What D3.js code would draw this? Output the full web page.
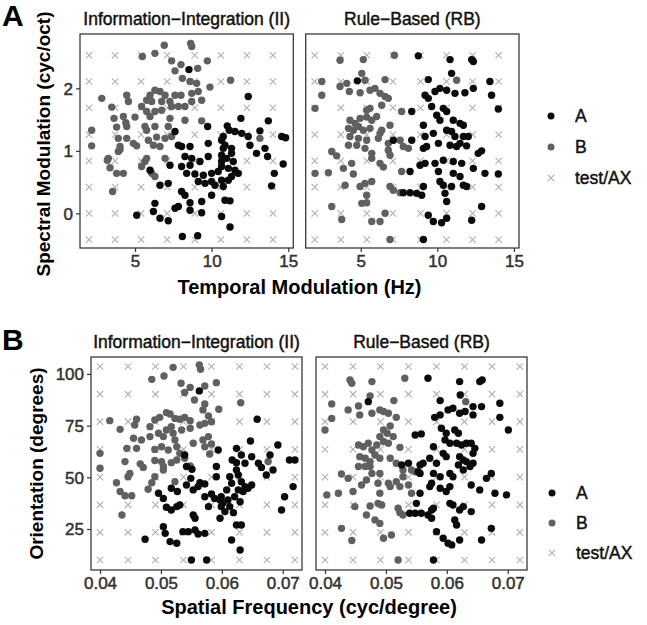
<!DOCTYPE html>
<html><head><meta charset="utf-8">
<script src="https://cdn.jsdelivr.net/npm/d3@7"></script>
<style>body{margin:0;background:#fff} svg{display:block} text{font-family:"Liberation Sans",Arial,Helvetica,sans-serif}</style>
</head><body><svg id="c" width="647" height="625"></svg>
<script>
const panelTitles = ["Information\u2212Integration (II)", "Rule\u2212Based (RB)"];
const legendLabels = ["A", "B", "test/AX"];

// ---- Row A: auditory ----
const audTicksX = [5, 10, 15];
const audTicksY = [0, 1, 2];
const audTestX = [2.0, 3.7, 5.4, 7.1, 8.9, 10.6, 12.3, 14.0];
const audTestY = [-0.42, 0.0, 0.42, 0.84, 1.26, 1.69, 2.11, 2.53];
const audII_B = [[6.91,2.69],[8.63,2.72],[8.70,2.67],[6.30,2.56],[5.48,2.51],[7.39,2.44],[8.00,2.38],[9.09,2.32],[9.72,2.44],[7.61,2.28],[8.09,2.16],[8.59,2.11],[9.02,2.08],[9.89,2.02],[11.24,2.13],[6.30,1.97],[6.63,1.95],[5.98,1.89],[6.96,1.89],[7.61,1.89],[8.00,1.89],[8.70,1.92],[9.13,1.95],[9.35,1.81],[2.83,1.84],[4.46,1.89],[4.57,1.79],[5.76,1.81],[6.09,1.79],[6.74,1.79],[7.28,1.79],[7.83,1.71],[8.26,1.71],[8.70,1.79],[3.48,1.70],[5.43,1.71],[5.76,1.63],[6.30,1.63],[6.74,1.65],[7.39,1.71],[4.24,1.55],[5.00,1.54],[5.98,1.55],[7.28,1.52],[8.26,1.49],[9.35,1.48],[2.17,1.33],[3.80,1.38],[4.46,1.39],[5.65,1.39],[5.76,1.33],[6.30,1.39],[7.17,1.39],[3.91,1.20],[4.46,1.20],[5.87,1.17],[6.41,1.22],[6.96,1.20],[7.39,1.23],[2.17,1.08],[4.89,1.12],[5.11,1.08],[6.20,1.09],[6.63,1.07],[4.02,1.02],[3.91,0.99],[6.96,0.88],[5.76,0.88],[3.26,0.88],[3.37,0.73],[3.80,0.64],[4.24,0.64],[5.43,0.75],[5.65,0.83],[6.09,0.64],[6.30,0.59],[3.54,0.35],[13.15,1.20],[3.63,1.52],[4.40,1.45],[4.02,1.07],[3.19,0.85]];
const audII_A = [[8.52,2.30],[12.39,1.87],[11.91,1.52],[13.70,1.48],[7.61,1.31],[9.74,1.39],[11.02,1.40],[11.15,1.33],[11.52,1.31],[11.96,1.28],[12.39,1.23],[13.15,1.32],[14.57,1.23],[14.83,1.21],[7.83,1.09],[8.04,1.07],[8.59,1.07],[9.78,1.12],[10.65,1.17],[10.87,1.09],[11.30,1.04],[12.50,1.09],[12.93,0.96],[13.48,1.04],[8.26,0.91],[8.70,0.88],[9.78,0.91],[10.65,0.93],[11.30,0.96],[13.65,0.91],[7.28,0.77],[8.04,0.75],[8.59,0.77],[9.24,0.83],[5.98,0.69],[8.37,0.64],[8.91,0.63],[9.46,0.61],[10.00,0.64],[10.43,0.67],[10.65,0.75],[11.09,0.72],[11.52,0.69],[11.74,0.64],[11.30,0.59],[14.09,0.64],[14.67,0.79],[6.63,0.45],[7.17,0.48],[9.13,0.51],[9.57,0.48],[10.00,0.51],[10.22,0.45],[10.65,0.53],[11.09,0.53],[10.76,0.43],[13.91,0.44],[8.04,0.35],[8.26,0.29],[10.00,0.29],[10.87,0.21],[11.20,0.20],[8.59,0.17],[9.35,0.19],[6.30,0.16],[7.61,0.08],[7.83,0.11],[5.11,-0.03],[6.20,0.03],[6.63,-0.08],[7.17,-0.12],[8.59,0.05],[9.35,0.01],[10.65,-0.05],[11.20,-0.22],[8.09,-0.37],[9.09,-0.36],[10.76,1.23],[10.76,1.04],[10.65,0.83],[10.98,0.88],[11.41,0.83]];
const audRB_B = [[3.65,2.45],[5.17,2.46],[7.20,2.53],[2.46,2.11],[3.65,2.03],[4.09,2.08],[5.07,2.24],[5.28,2.13],[6.59,2.14],[11.26,2.13],[2.46,1.89],[4.26,1.95],[4.96,1.93],[5.61,1.97],[5.93,2.00],[6.26,1.92],[6.59,1.87],[6.80,1.84],[2.02,1.68],[5.39,1.65],[5.61,1.68],[6.37,1.73],[7.67,1.63],[4.30,1.49],[4.96,1.52],[4.63,1.44],[5.39,1.54],[5.72,1.49],[6.04,1.55],[6.91,1.41],[4.20,1.36],[4.52,1.33],[4.85,1.39],[5.17,1.33],[5.61,1.36],[6.26,1.28],[6.37,1.33],[4.30,1.23],[4.85,1.20],[5.39,1.17],[6.15,1.20],[6.80,1.12],[7.57,1.17],[4.20,1.09],[4.74,1.09],[5.28,1.04],[5.72,0.96],[6.80,1.01],[7.78,1.07],[8.11,1.04],[3.11,0.99],[3.43,0.92],[4.41,0.80],[5.72,0.88],[6.26,0.80],[6.91,0.93],[2.02,0.64],[2.89,0.65],[3.87,0.72],[4.52,0.63],[6.48,0.74],[7.67,0.67],[3.98,0.45],[4.96,0.43],[5.28,0.48],[5.72,0.51],[5.39,0.29],[6.91,0.43],[7.13,0.37],[7.57,0.33],[3.11,0.11],[3.76,-0.10],[5.07,0.16],[5.39,0.17],[5.72,-0.13],[6.26,-0.13],[6.59,0.00],[6.91,-0.42]];
const audRB_A = [[8.76,2.52],[10.83,2.46],[12.24,2.46],[12.35,2.43],[4.78,2.12],[9.41,2.14],[10.93,2.24],[13.43,2.11],[12.35,2.00],[11.80,1.93],[9.20,1.89],[9.41,1.84],[9.85,1.95],[10.17,2.00],[10.61,1.97],[11.15,1.92],[13.54,1.89],[8.33,1.63],[9.63,1.71],[10.39,1.68],[10.61,1.63],[13.98,1.67],[9.09,1.41],[9.96,1.57],[10.17,1.49],[11.04,1.49],[11.48,1.44],[11.70,1.41],[7.13,1.17],[8.33,1.17],[9.20,1.23],[9.74,1.28],[10.61,1.33],[10.93,1.31],[11.15,1.23],[11.70,1.23],[12.02,1.23],[9.09,1.04],[9.30,1.07],[10.07,1.12],[10.83,1.09],[11.26,1.07],[11.48,1.12],[11.91,1.08],[12.67,0.96],[12.89,1.00],[8.87,0.77],[9.20,0.80],[9.85,0.80],[10.39,0.85],[11.04,0.83],[11.59,0.80],[12.35,0.72],[8.22,0.67],[10.07,0.67],[11.04,0.64],[11.48,0.59],[13.11,0.64],[13.98,0.63],[9.09,0.43],[10.17,0.51],[10.39,0.45],[10.93,0.43],[11.70,0.45],[11.91,0.43],[7.78,0.33],[8.22,0.33],[8.65,0.32],[8.98,0.29],[10.50,0.32],[10.61,0.19],[12.89,0.11],[9.41,-0.03],[9.74,-0.13],[10.28,-0.15],[10.61,-0.08],[12.24,-0.11],[9.09,-0.42]];

// ---- Row B: visual ----
const visTicksX = [0.04, 0.05, 0.06, 0.07];
const visTicksY = [25, 50, 75, 100];
const visTestX = [0.0400, 0.0446, 0.0491, 0.0537, 0.0583, 0.0629, 0.0674, 0.0720];
const visTestY = [10, 23.4, 36.7, 50.1, 63.5, 76.9, 90.2, 103.6];
const visII_B = [[0.0520,103.2],[0.0563,104.4],[0.0565,102.3],[0.0485,97.4],[0.0505,99.0],[0.0533,95.5],[0.0539,91.0],[0.0548,93.5],[0.0572,94.2],[0.0591,95.8],[0.0555,87.4],[0.0572,85.5],[0.0631,86.1],[0.0595,82.9],[0.0416,77.4],[0.0433,73.2],[0.0460,78.1],[0.0457,75.3],[0.0482,74.5],[0.0490,77.7],[0.0498,79.0],[0.0509,81.3],[0.0515,80.6],[0.0523,78.5],[0.0531,78.1],[0.0539,79.0],[0.0548,77.4],[0.0564,75.3],[0.0572,76.1],[0.0583,76.9],[0.0569,82.6],[0.0578,79.7],[0.0482,69.7],[0.0496,71.3],[0.0504,69.7],[0.0509,72.9],[0.0517,74.5],[0.0520,71.3],[0.0534,72.9],[0.0548,73.7],[0.0455,68.9],[0.0468,68.1],[0.0501,64.8],[0.0523,68.1],[0.0526,64.8],[0.0553,66.5],[0.0569,68.1],[0.0578,69.7],[0.0583,66.1],[0.0444,64.0],[0.0460,64.0],[0.0490,63.5],[0.0512,63.2],[0.0531,61.6],[0.0539,59.2],[0.0572,64.8],[0.0580,61.3],[0.0441,57.6],[0.0466,56.5],[0.0471,54.8],[0.0449,51.9],[0.0446,50.3],[0.0490,58.1],[0.0501,57.6],[0.0504,55.2],[0.0517,57.1],[0.0526,58.4],[0.0548,55.5],[0.0427,47.4],[0.0433,43.1],[0.0452,41.1],[0.0441,41.1],[0.0479,44.2],[0.0485,47.4],[0.0490,50.3],[0.0523,47.9],[0.0504,53.5],[0.0436,31.8],[0.0676,57.6],[0.0400,61.6],[0.0400,54.4]];
const visII_A = [[0.0563,91.8],[0.0658,78.1],[0.0647,67.6],[0.0692,65.6],[0.0594,63.2],[0.0624,64.0],[0.0632,60.8],[0.0649,60.0],[0.0679,60.8],[0.0539,60.8],[0.0542,55.2],[0.0551,53.9],[0.0591,55.2],[0.0617,58.4],[0.0624,57.1],[0.0624,53.5],[0.0638,56.8],[0.0660,56.8],[0.0665,54.8],[0.0673,51.1],[0.0684,53.5],[0.0711,58.4],[0.0720,58.4],[0.0549,49.5],[0.0564,47.4],[0.0572,46.8],[0.0591,50.3],[0.0613,50.3],[0.0627,51.1],[0.0632,47.9],[0.0638,45.5],[0.0627,43.9],[0.0616,47.1],[0.0608,43.9],[0.0599,40.6],[0.0597,39.0],[0.0496,42.3],[0.0504,39.8],[0.0517,44.7],[0.0527,43.1],[0.0542,46.3],[0.0553,43.9],[0.0561,45.5],[0.0572,40.6],[0.0583,41.9],[0.0588,39.8],[0.0602,37.7],[0.0610,39.0],[0.0621,40.6],[0.0630,38.2],[0.0635,43.1],[0.0643,44.7],[0.0649,46.3],[0.0717,45.5],[0.0703,40.6],[0.0698,34.2],[0.0509,35.5],[0.0517,34.2],[0.0526,35.8],[0.0531,36.6],[0.0553,31.8],[0.0556,30.2],[0.0578,35.8],[0.0599,35.8],[0.0605,33.4],[0.0613,35.8],[0.0619,32.9],[0.0474,20.0],[0.0504,26.1],[0.0507,22.9],[0.0515,18.9],[0.0526,18.1],[0.0536,23.7],[0.0545,23.7],[0.0556,24.5],[0.0561,22.6],[0.0572,22.9],[0.0597,30.2],[0.0616,19.7],[0.0624,26.9],[0.0632,26.9],[0.0630,14.8],[0.0550,10.0],[0.0575,10.0]];
const visRB_B = [[0.0441,97.1],[0.0444,95.5],[0.0477,96.3],[0.0531,97.9],[0.0411,85.5],[0.0411,78.5],[0.0438,82.6],[0.0455,84.5],[0.0457,80.2],[0.0474,89.4],[0.0477,81.0],[0.0490,82.6],[0.0496,81.8],[0.0504,81.0],[0.0513,87.1],[0.0517,79.0],[0.0631,86.6],[0.0400,72.9],[0.0507,74.8],[0.0496,72.9],[0.0502,71.3],[0.0490,69.7],[0.0455,65.6],[0.0463,64.8],[0.0471,66.5],[0.0477,63.2],[0.0485,65.6],[0.0496,67.3],[0.0504,66.5],[0.0512,69.7],[0.0523,64.5],[0.0457,60.0],[0.0466,59.2],[0.0474,57.6],[0.0482,60.8],[0.0490,59.2],[0.0507,59.2],[0.0517,56.8],[0.0528,53.5],[0.0542,53.5],[0.0548,52.7],[0.0455,55.2],[0.0466,55.2],[0.0474,55.2],[0.0477,51.9],[0.0490,51.9],[0.0427,51.6],[0.0438,49.5],[0.0460,46.3],[0.0468,48.7],[0.0487,47.1],[0.0504,47.1],[0.0517,47.9],[0.0523,45.5],[0.0528,50.3],[0.0403,41.5],[0.0422,42.3],[0.0446,43.1],[0.0490,42.3],[0.0507,45.5],[0.0542,42.3],[0.0537,46.3],[0.0449,35.8],[0.0474,36.1],[0.0487,37.4],[0.0493,36.6],[0.0468,31.8],[0.0482,29.4],[0.0490,27.7],[0.0520,35.0],[0.0523,32.9],[0.0528,31.8],[0.0427,25.3],[0.0444,19.4],[0.0496,20.5],[0.0509,22.1],[0.0520,10.0]];
const visRB_A = [[0.0569,97.9],[0.0621,96.3],[0.0654,96.3],[0.0658,97.1],[0.0471,86.6],[0.0589,87.1],[0.0622,89.8],[0.0643,84.2],[0.0657,84.2],[0.0687,85.8],[0.0580,79.0],[0.0589,80.2],[0.0602,82.6],[0.0610,83.4],[0.0621,81.0],[0.0630,81.8],[0.0643,80.2],[0.0687,79.0],[0.0701,72.9],[0.0548,70.5],[0.0558,71.0],[0.0591,73.7],[0.0599,71.3],[0.0613,72.9],[0.0619,71.3],[0.0578,64.8],[0.0597,68.1],[0.0605,66.5],[0.0616,66.5],[0.0624,65.6],[0.0632,66.5],[0.0640,66.5],[0.0646,64.0],[0.0643,61.6],[0.0526,56.0],[0.0537,56.8],[0.0556,56.0],[0.0561,56.8],[0.0572,59.2],[0.0583,56.8],[0.0594,61.6],[0.0599,60.0],[0.0621,60.0],[0.0627,58.4],[0.0632,57.6],[0.0643,56.8],[0.0638,55.2],[0.0619,56.0],[0.0553,52.7],[0.0556,51.9],[0.0578,51.9],[0.0589,50.3],[0.0575,47.1],[0.0605,51.9],[0.0610,50.3],[0.0627,53.5],[0.0673,51.9],[0.0665,49.5],[0.0572,45.5],[0.0589,44.7],[0.0605,45.5],[0.0599,43.1],[0.0640,46.3],[0.0654,43.9],[0.0679,42.3],[0.0698,41.5],[0.0556,42.3],[0.0550,37.4],[0.0575,34.2],[0.0578,35.0],[0.0605,37.4],[0.0610,36.6],[0.0621,34.2],[0.0627,35.8],[0.0640,33.4],[0.0539,32.6],[0.0548,32.6],[0.0558,32.6],[0.0569,31.8],[0.0575,30.2],[0.0613,29.4],[0.0616,26.9],[0.0673,25.3],[0.0657,19.7],[0.0583,23.7],[0.0594,20.5],[0.0602,18.1],[0.0608,17.3],[0.0621,19.7],[0.0578,10.0]];

const colA = "#0b0b0b", colB = "#606060", colX = "#b0b0b0";
const FONT = '"Liberation Sans",Arial,Helvetica,sans-serif';
const svg = d3.select("#c");

function thick(sel, col, w) { return sel.attr("stroke", col).attr("stroke-width", w).attr("paint-order", "stroke"); }

function drawRow(cfg) {
  const x = d3.scaleLinear().domain(cfg.xDomain).range([0, cfg.w]);
  const y = d3.scaleLinear().domain(cfg.yDomain).range([cfg.h, 0]);
  const grid = [];
  cfg.testX.forEach(tx => cfg.testY.forEach(ty => grid.push([tx, ty])));
  cfg.panels.forEach((p, i) => {
    const g = svg.append("g").attr("transform", `translate(${p.left},${cfg.top})`);
    g.append("rect").attr("width", cfg.w).attr("height", cfg.h).attr("fill", "#fff");
    const cs = 3.2;
    g.append("g").selectAll("path").data(grid).join("path")
      .attr("d", d => { const cx = x(d[0]), cy = y(d[1]);
        return `M${cx-cs},${cy-cs}L${cx+cs},${cy+cs}M${cx-cs},${cy+cs}L${cx+cs},${cy-cs}`; })
      .attr("stroke", colX).attr("stroke-width", 1.1).attr("fill", "none");
    g.append("g").selectAll("circle").data(p.B).join("circle")
      .attr("cx", d => x(d[0])).attr("cy", d => y(d[1])).attr("r", 3.7).attr("fill", colB);
    g.append("g").selectAll("circle").data(p.A).join("circle")
      .attr("cx", d => x(d[0])).attr("cy", d => y(d[1])).attr("r", 3.7).attr("fill", colA);
    g.append("rect").attr("width", cfg.w).attr("height", cfg.h).attr("fill", "none")
      .attr("stroke", "#3a3a3a").attr("stroke-width", 1.3);
    // x axis
    const xa = g.append("g").attr("transform", `translate(0,${cfg.h})`)
      .call(d3.axisBottom(x).tickValues(cfg.ticksX).tickSize(4).tickPadding(3).tickFormat(cfg.fmtX));
    xa.select(".domain").remove();
    xa.selectAll("line").attr("stroke", "#333").attr("stroke-width", 1.2);
    thick(xa.selectAll("text").attr("fill", "#333").style("font-size", "17px").style("font-family", FONT), "#333", 0.5);
    if (i === 0) {
      const ya = g.append("g").call(d3.axisLeft(y).tickValues(cfg.ticksY).tickSize(4).tickPadding(3).tickFormat(cfg.fmtY));
      ya.select(".domain").remove();
      ya.selectAll("line").attr("stroke", "#333").attr("stroke-width", 1.2);
      thick(ya.selectAll("text").attr("fill", "#333").style("font-size", "17px").style("font-family", FONT).attr("dy", "0.34em"), "#333", 0.5);
    }
    thick(svg.append("text").attr("x", p.left + cfg.w / 2).attr("y", cfg.top - 9)
      .attr("text-anchor", "middle").style("font-size", "17.5px").attr("fill", "#111")
      .text(panelTitles[i]), "#111", 0.45);
  });
  // axis titles
  const l0 = cfg.panels[0].left, l1 = cfg.panels[1].left + cfg.w;
  svg.append("text").attr("x", (l0 + l1) / 2).attr("y", cfg.top + cfg.h + cfg.xTitleDy)
    .attr("text-anchor", "middle").style("font-size", "20px").style("font-weight", "bold").text(cfg.xTitle);
  svg.append("text").attr("transform", `translate(${cfg.yTitleX},${cfg.top + cfg.h / 2 + cfg.yTitleOff}) rotate(-90)`)
    .attr("text-anchor", "middle").style("font-size", "19px").style("font-weight", "bold").text(cfg.yTitle);
  svg.append("text").attr("x", 2).attr("y", cfg.letterY).style("font-size", "30px")
    .style("font-weight", "bold").text(cfg.letter);
  // legend
  const lg = svg.append("g").attr("transform", `translate(${cfg.legX},${cfg.legY})`);
  legendLabels.forEach((lab, k) => {
    const cy = k * cfg.legStep;
    if (k < 2) lg.append("circle").attr("cx", 0).attr("cy", cy).attr("r", 3.5).attr("fill", k === 0 ? colA : colB);
    else lg.append("path").attr("d", `M-3.2,${cy-3.2}L3.2,${cy+3.2}M-3.2,${cy+3.2}L3.2,${cy-3.2}`)
      .attr("stroke", colX).attr("stroke-width", 1.1);
    thick(lg.append("text").attr("x", 24).attr("y", cy).attr("dy", "0.36em").style("font-size", "17.5px")
      .attr("fill", "#111").text(lab), "#111", 0.45);
  });
}

drawRow({
  top: 34, w: 213.3, h: 214,
  panels: [{left: 80, A: audII_A, B: audII_B}, {left: 305.7, A: audRB_A, B: audRB_B}],
  xDomain: [1.41, 15.33], yDomain: [-0.555, 2.87],
  ticksX: audTicksX, ticksY: audTicksY, fmtX: d3.format("d"), fmtY: d3.format("d"),
  testX: audTestX, testY: audTestY,
  xTitle: "Temporal Modulation (Hz)", xTitleDy: 46,
  yTitle: "Spectral Modulation (cyc/oct)", yTitleX: 50, yTitleOff: 3,
  letter: "A", letterY: 26, legX: 551, legY: 116, legStep: 31
});
drawRow({
  top: 357, w: 211, h: 213,
  panels: [{left: 91, A: visII_A, B: visII_B}, {left: 316, A: visRB_A, B: visRB_B}],
  xDomain: [0.03852, 0.07316], yDomain: [5.16, 108.2],
  ticksX: visTicksX, ticksY: visTicksY, fmtX: d3.format(".2f"), fmtY: d3.format("d"),
  testX: visTestX, testY: visTestY,
  xTitle: "Spatial Frequency (cyc/degree)", xTitleDy: 44,
  yTitle: "Orientation (degrees)", yTitleX: 43, yTitleOff: 0,
  letter: "B", letterY: 350, legX: 552, legY: 493, legStep: 30
});
</script></body></html>
